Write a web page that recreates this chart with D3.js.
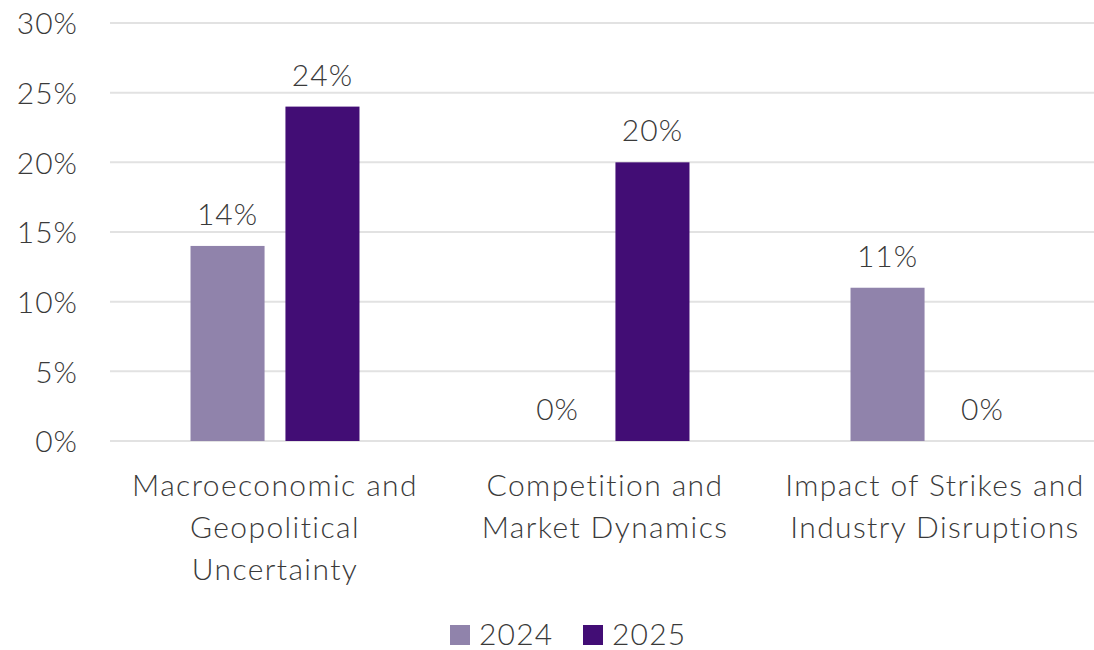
<!DOCTYPE html>
<html>
<head>
<meta charset="utf-8">
<script src="https://cdn.jsdelivr.net/npm/d3@7"></script>
<style>
  html, body { margin: 0; padding: 0; background: #ffffff; }
  svg { display: block; font-family: "Lato", "Open Sans", sans-serif; font-weight: 300; }
</style>
</head>
<body>
<svg id="chart" width="1094" height="650"></svg>
<script>
// Risk categories and share of respondents per survey year
const categories = [
  ["Macroeconomic and", "Geopolitical", "Uncertainty"],
  ["Competition and", "Market Dynamics"],
  ["Impact of Strikes and", "Industry Disruptions"]
];
const years = ["2024", "2025"];
const values2024 = [14, 0, 11];
const values2025 = [24, 20, 0];
const yTicks = [0, 5, 10, 15, 20, 25, 30];
const colors = ["#9083ab", "#420d75"];

const textColor = "#3a3a3a";
const svg = d3.select("#chart");
const W = 1094;

const y = d3.scaleLinear().domain([0, 30]).range([441, 23]);
const x0 = d3.scaleBand().domain(d3.range(categories.length)).range([110, 1100]).paddingInner(0.488).paddingOuter(0.244);
const x1 = d3.scaleBand().domain(years).range([0, x0.bandwidth()]).paddingInner(0.22);

// Horizontal gridlines
svg.append("g")
  .selectAll("line")
  .data(yTicks)
  .join("line")
  .attr("x1", 110).attr("x2", W)
  .attr("y1", d => y(d)).attr("y2", d => y(d))
  .attr("stroke", "#e2e2e2")
  .attr("stroke-width", 2);

// Y axis labels
const yAxis = d3.axisLeft(y).tickValues(yTicks).tickFormat(d => d + "%").tickSize(0).tickPadding(0);
const ya = svg.append("g").attr("transform", "translate(78,0)").call(yAxis);
ya.select(".domain").remove();
ya.selectAll("text")
  .attr("font-size", 30)
  .attr("letter-spacing", 1)
  .attr("fill", textColor)
  .attr("font-family", "Lato, sans-serif")
  .attr("font-weight", 300)
  .attr("dy", "0.36em");

// Bars
const rows = categories.map((c, i) => ({
  i,
  vals: [{ year: "2024", v: values2024[i] }, { year: "2025", v: values2025[i] }]
}));

const groups = svg.append("g")
  .selectAll("g")
  .data(rows)
  .join("g")
  .attr("transform", d => `translate(${x0(d.i)},0)`);

groups.selectAll("rect")
  .data(d => d.vals)
  .join("rect")
  .attr("x", d => x1(d.year))
  .attr("width", x1.bandwidth())
  .attr("y", d => y(d.v))
  .attr("height", d => y(0) - y(d.v))
  .attr("fill", d => colors[years.indexOf(d.year)]);

groups.selectAll("text.val")
  .data(d => d.vals)
  .join("text")
  .attr("class", "val")
  .attr("x", d => x1(d.year) + x1.bandwidth() / 2)
  .attr("y", d => y(d.v) - 21)
  .attr("text-anchor", "middle")
  .attr("font-size", 30)
  .attr("letter-spacing", 1)
  .attr("fill", textColor)
  .text(d => d.v + "%");

// Category labels
const cat = svg.append("g")
  .selectAll("text")
  .data(rows)
  .join("text")
  .attr("x", d => x0(d.i) + x0.bandwidth() / 2)
  .attr("y", 496)
  .attr("text-anchor", "middle")
  .attr("font-size", 30)
  .attr("letter-spacing", 1.4)
  .attr("fill", textColor);
cat.selectAll("tspan")
  .data(d => categories[d.i])
  .join("tspan")
  .attr("x", function () { return this.parentNode.getAttribute("x"); })
  .attr("dy", (d, k) => k === 0 ? 0 : 42)
  .text(d => d);

// Legend
const legend = svg.append("g").attr("transform", "translate(450,625)");
const items = legend.selectAll("g")
  .data(years)
  .join("g")
  .attr("transform", (d, k) => `translate(${k * 133},0)`);
items.append("rect").attr("width", 20).attr("height", 20).attr("fill", (d, k) => colors[k]);
items.append("text")
  .attr("x", 29).attr("y", 20)
  .attr("font-size", 30).attr("letter-spacing", 1.2).attr("fill", textColor)
  .text(d => d);
</script>
</body>
</html>
